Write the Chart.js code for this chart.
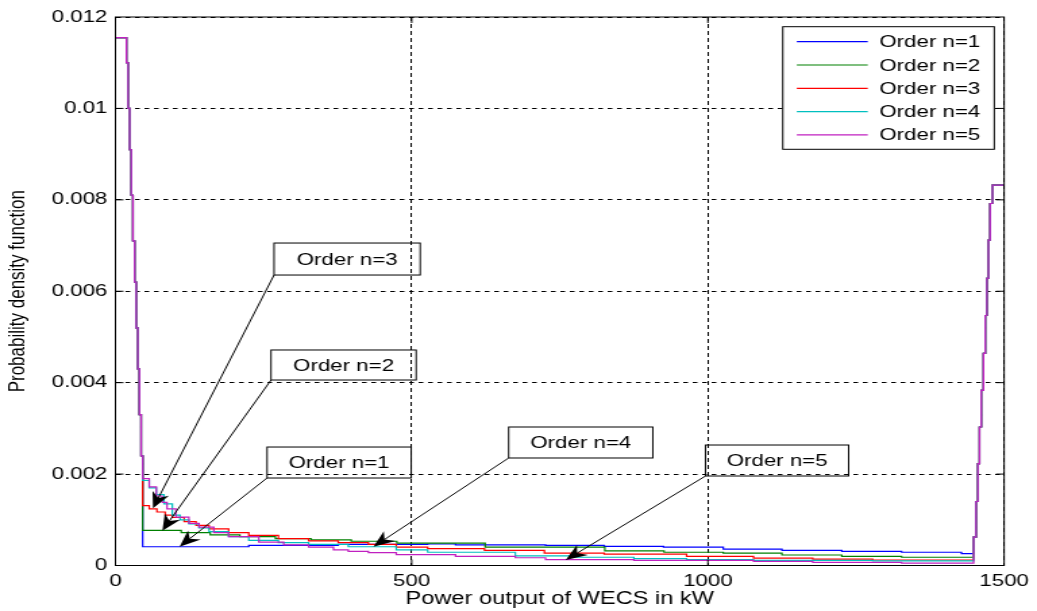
<!DOCTYPE html>
<html>
<head>
<meta charset="utf-8">
<title>Probability density of WECS power output</title>
<script src="https://cdn.jsdelivr.net/npm/chart.js@4/dist/chart.umd.min.js"></script>
<style>
  html, body { margin: 0; padding: 0; background: #ffffff; }
  canvas { display: block; }
</style>
</head>
<body>
<!-- drawn on a 768px buffer and shown 1037px wide (wide aspect of the figure) -->
<canvas id="pdfChart" width="768" height="611" style="width:1037px;height:611px"></canvas>
<script>
// ---- data (power in kW, probability density) ----
const seriesLabels = ['Order n=1', 'Order n=2', 'Order n=3', 'Order n=4', 'Order n=5'];
const seriesColors = ['#0000ff', '#008000', '#ff0000', '#00bfbf', '#c020c0'];

// steep part near zero output, shared by all orders
const spikePower = [0, 18.5, 21.3, 24, 26.8, 29.5, 32.3, 35, 37.8, 40.5, 43.3];
const spikePdf   = [0.01155, 0.0110, 0.0100, 0.0091, 0.0081, 0.0071, 0.0062, 0.0052, 0.0043, 0.0033, 0.0024];

// rise towards rated output, shared by all orders
const risePower = [1448.5, 1452.5, 1455.8, 1458.5, 1461.3, 1465.2, 1468.1, 1470.9, 1473.6, 1476.4, 1480.3, 1500];
const risePdf   = [0.00062, 0.00140, 0.00223, 0.00303, 0.00383, 0.00464, 0.00547, 0.00628, 0.00712, 0.00792, 0.00832, 0.00832];

// partial-load region for each order
const n1Power = [46, 225, 376, 527, 574, 726, 825, 925, 1026, 1125, 1226, 1327, 1428];
const n1Pdf   = [0.00041, 0.00044, 0.00046, 0.00047, 0.00045, 0.00044, 0.00042, 0.00040, 0.00036, 0.00033, 0.00031, 0.00029, 0.00026];

const n2Power = [46, 111, 160, 210, 270, 330, 398, 475, 624, 826, 926, 1026, 1125, 1226, 1327];
const n2Pdf   = [0.00077, 0.00072, 0.00067, 0.00063, 0.00059, 0.00056, 0.00053, 0.00049, 0.00040, 0.00032, 0.00029, 0.00027, 0.00023, 0.00020, 0.00018];

const n3Power = [46, 57, 70, 84, 96, 116, 136, 158, 191, 225, 275, 326, 376, 427, 474, 527, 623, 724, 825, 964, 1077, 1177, 1278];
const n3Pdf   = [0.00131, 0.00124, 0.00117, 0.00110, 0.00105, 0.00096, 0.00088, 0.00080, 0.00072, 0.00066, 0.00059, 0.00054, 0.00050, 0.00046, 0.00040, 0.00037, 0.00033, 0.00027, 0.00025, 0.00020, 0.00016, 0.00014, 0.00012];

const n4Power = [46, 57, 69, 82, 96, 109, 124, 141, 158, 191, 225, 275, 326, 393, 474, 527, 675, 774, 875, 964, 1077, 1278];
const n4Pdf   = [0.00186, 0.00170, 0.00155, 0.00135, 0.00110, 0.00100, 0.00091, 0.00082, 0.00074, 0.00063, 0.00055, 0.00050, 0.00046, 0.00041, 0.00034, 0.00029, 0.00021, 0.00018, 0.00015, 0.00013, 0.00011, 0.00010];

const n5Power = [46, 57, 69, 79, 87, 102, 124, 141, 166, 191, 242, 284, 326, 368, 393, 427, 474, 574, 675, 726, 875, 1077, 1177, 1327];
const n5Pdf   = [0.00190, 0.00172, 0.00152, 0.00138, 0.00124, 0.00106, 0.00092, 0.00084, 0.00072, 0.00063, 0.00051, 0.00045, 0.00040, 0.00034, 0.00031, 0.00028, 0.00024, 0.00020, 0.00017, 0.00013, 0.00011, 0.00009, 0.00007, 0.00005];

const xTickLabels = ['0', '500', '1000', '1500'];
const yTickLabels = ['0', '0.002', '0.004', '0.006', '0.008', '0.01', '0.012'];

// callout boxes (data coordinates) and the point each arrow marks
const noteLabels = ['Order n=3', 'Order n=2', 'Order n=1', 'Order n=4', 'Order n=5'];
const noteLeft   = [267.7, 262.6, 255.9, 663.7, 996.0];
const noteRight  = [514.4, 507.6, 499.2, 907.0, 1237.6];
const noteTop    = [0.007055, 0.004715, 0.002592, 0.003030, 0.002636];
const noteBottom = [0.006355, 0.004058, 0.001914, 0.002352, 0.001958];
const tipPower   = [63.4, 79.2, 108.2, 435.5, 759.9];
const tipPdf     = [0.001251, 0.000761, 0.000411, 0.000411, 0.000120];

// ---- chart ----
const FONT = "Arial, 'Liberation Sans', Helvetica, sans-serif";
Chart.defaults.font.family = FONT;
Chart.defaults.color = '#000';

const seriesPower = [n1Power, n2Power, n3Power, n4Power, n5Power];
const seriesPdf = [n1Pdf, n2Pdf, n3Pdf, n4Pdf, n5Pdf];

function stairPoints(power, pdf) {
  const xs = spikePower.concat(power, risePower);
  const ys = spikePdf.concat(pdf, risePdf);
  return xs.map((x, i) => ({ x: x, y: ys[i] }));
}

const datasets = seriesLabels.map((label, i) => ({
  label: label,
  data: stairPoints(seriesPower[i], seriesPdf[i]),
  borderColor: seriesColors[i],
  backgroundColor: seriesColors[i],
  borderWidth: 1.2,
  pointRadius: 0,
  stepped: true,
  fill: false,
  // higher orders are painted over lower ones
  order: seriesLabels.length - i
}));

const TICK_LEN = 6;

const framePlugin = {
  id: 'axesFrame',
  afterDatasetsDraw(chart) {
    const { ctx, chartArea: a, scales } = chart;
    const xs = scales.x, ys = scales.y;
    ctx.save();
    ctx.setLineDash([]);
    ctx.strokeStyle = '#000';
    ctx.lineWidth = 1;
    ctx.beginPath();
    xs.ticks.forEach(t => {
      const px = xs.getPixelForValue(t.value);
      if (px <= a.left + 1 || px >= a.right - 1) return;
      ctx.moveTo(px, a.bottom); ctx.lineTo(px, a.bottom - TICK_LEN);
      ctx.moveTo(px, a.top); ctx.lineTo(px, a.top + TICK_LEN);
    });
    ys.ticks.forEach(t => {
      const py = ys.getPixelForValue(t.value);
      if (py <= a.top + 1 || py >= a.bottom - 1) return;
      ctx.moveTo(a.left, py); ctx.lineTo(a.left + TICK_LEN, py);
      ctx.moveTo(a.right, py); ctx.lineTo(a.right - TICK_LEN, py);
    });
    ctx.stroke();
    ctx.strokeRect(a.left, a.top, a.right - a.left, a.bottom - a.top);
    ctx.restore();
  }
};

function drawArrow(ctx, x0, y0, x1, y1) {
  const ang = Math.atan2(y1 - y0, x1 - x0);
  const len = 16, half = 6.5, notch = 5;
  ctx.beginPath();
  ctx.moveTo(x0, y0);
  ctx.lineTo(x1 - Math.cos(ang) * (len - notch), y1 - Math.sin(ang) * (len - notch));
  ctx.stroke();
  ctx.save();
  ctx.translate(x1, y1);
  ctx.rotate(ang);
  ctx.beginPath();
  ctx.moveTo(0, 0);
  ctx.lineTo(-len, -half);
  ctx.lineTo(-len + notch, 0);
  ctx.lineTo(-len, half);
  ctx.closePath();
  ctx.fill();
  ctx.restore();
}

const keyAndNotesPlugin = {
  id: 'keyAndNotes',
  afterDraw(chart) {
    const { ctx, chartArea: a, scales } = chart;
    const xs = scales.x, ys = scales.y;
    ctx.save();
    ctx.setLineDash([]);
    ctx.font = '16.5px ' + FONT;
    ctx.textBaseline = 'middle';

    // legend box, top right inside the axes
    const boxW = 156.6, boxH = 122.6;
    const bx = a.right - 7.3 - boxW, by = a.top + 9.7;
    ctx.fillStyle = '#fff';
    ctx.fillRect(bx, by, boxW, boxH);
    ctx.strokeStyle = '#000';
    ctx.lineWidth = 1;
    ctx.strokeRect(bx, by, boxW, boxH);
    chart.data.datasets.forEach((ds, i) => {
      const ry = by + 15 + i * 23.3;
      ctx.strokeStyle = ds.borderColor;
      ctx.lineWidth = 1.2;
      ctx.beginPath();
      ctx.moveTo(bx + 10.4, ry);
      ctx.lineTo(bx + 62.9, ry);
      ctx.stroke();
      ctx.fillStyle = '#000';
      ctx.textAlign = 'left';
      ctx.fillText(ds.label, bx + 71.5, ry + 1);
    });

    // callouts with arrows
    ctx.strokeStyle = '#000';
    ctx.fillStyle = '#000';
    ctx.lineWidth = 1;
    noteLabels.forEach((text, i) => {
      const l = xs.getPixelForValue(noteLeft[i]);
      const r = xs.getPixelForValue(noteRight[i]);
      const t = ys.getPixelForValue(noteTop[i]);
      const b = ys.getPixelForValue(noteBottom[i]);
      ctx.strokeRect(l, t, r - l, b - t);
      ctx.textAlign = 'center';
      ctx.fillText(text, (l + r) / 2, (t + b) / 2 + 1);
      drawArrow(ctx, l, b, xs.getPixelForValue(tipPower[i]), ys.getPixelForValue(tipPdf[i]));
    });
    ctx.restore();
  }
};

new Chart(document.getElementById('pdfChart'), {
  type: 'line',
  data: { datasets: datasets },
  options: {
    responsive: false,
    maintainAspectRatio: false,
    devicePixelRatio: 1,
    animation: false,
    parsing: true,
    layout: { padding: { left: 0, right: 20.5, top: 17, bottom: 0 } },
    plugins: {
      legend: { display: false },
      tooltip: { enabled: false },
      title: { display: false }
    },
    scales: {
      x: {
        type: 'linear',
        min: 0,
        max: 1500,
        afterFit: s => { s.height = 45.5; },
        ticks: {
          stepSize: 500,
          maxRotation: 0,
          padding: 6,
          color: '#000',
          font: { size: 16.5 },
          callback: (v, i) => xTickLabels[i]
        },
        grid: { color: '#000', lineWidth: 1, drawTicks: false },
        border: { display: false, dash: [4, 3] },
        title: {
          display: true,
          text: 'Power output of WECS in kW',
          color: '#000',
          font: { size: 17.5 },
          padding: { top: 0, bottom: 1 }
        }
      },
      y: {
        type: 'linear',
        min: 0,
        max: 0.012,
        afterFit: s => { s.width = 85.5; },
        ticks: {
          stepSize: 0.002,
          padding: 6,
          color: '#000',
          font: { size: 16.5 },
          callback: (v, i) => yTickLabels[i]
        },
        grid: { color: '#000', lineWidth: 1, drawTicks: false },
        border: { display: false, dash: [3.5, 3.5] },
        title: {
          display: true,
          text: 'Probability density function',
          color: '#000',
          font: { size: 17 },
          padding: { top: 3, bottom: 0 }
        }
      }
    }
  },
  plugins: [framePlugin, keyAndNotesPlugin]
});
</script>
</body>
</html>
